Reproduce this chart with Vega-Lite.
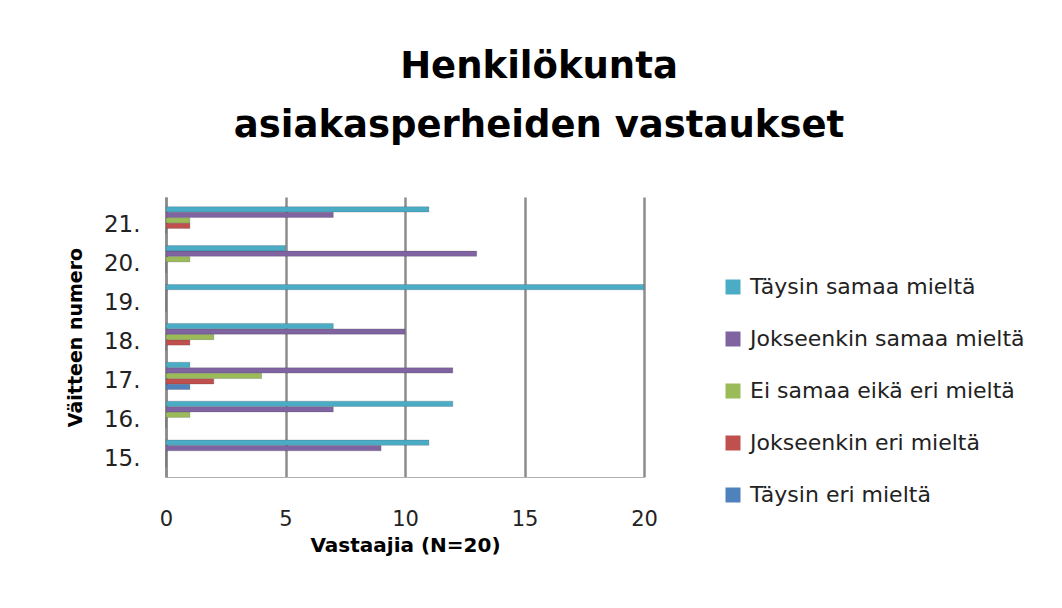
{
  "$schema": "https://vega.github.io/schema/vega-lite/v6.json",
  "autosize": "none",
  "width": 478,
  "height": 280,
  "padding": {"left": 166, "top": 197, "right": 418, "bottom": 131},
  "background": "white",
  "title": {
    "text": ["Henkilökunta", "asiakasperheiden vastaukset"],
    "font": "DejaVu Sans",
    "fontSize": 37,
    "fontWeight": "bold",
    "color": "#000000",
    "lineHeight": 59,
    "anchor": "middle",
    "dx": 134,
    "offset": 52
  },
  "data": {
    "values": [
      {"item": "15.", "series": "Täysin eri mieltä", "value": 0},
      {"item": "15.", "series": "Jokseenkin eri mieltä", "value": 0},
      {"item": "15.", "series": "Ei samaa eikä eri mieltä", "value": 0},
      {"item": "15.", "series": "Jokseenkin samaa mieltä", "value": 9},
      {"item": "15.", "series": "Täysin samaa mieltä", "value": 11},
      {"item": "16.", "series": "Täysin eri mieltä", "value": 0},
      {"item": "16.", "series": "Jokseenkin eri mieltä", "value": 0},
      {"item": "16.", "series": "Ei samaa eikä eri mieltä", "value": 1},
      {"item": "16.", "series": "Jokseenkin samaa mieltä", "value": 7},
      {"item": "16.", "series": "Täysin samaa mieltä", "value": 12},
      {"item": "17.", "series": "Täysin eri mieltä", "value": 1},
      {"item": "17.", "series": "Jokseenkin eri mieltä", "value": 2},
      {"item": "17.", "series": "Ei samaa eikä eri mieltä", "value": 4},
      {"item": "17.", "series": "Jokseenkin samaa mieltä", "value": 12},
      {"item": "17.", "series": "Täysin samaa mieltä", "value": 1},
      {"item": "18.", "series": "Täysin eri mieltä", "value": 0},
      {"item": "18.", "series": "Jokseenkin eri mieltä", "value": 1},
      {"item": "18.", "series": "Ei samaa eikä eri mieltä", "value": 2},
      {"item": "18.", "series": "Jokseenkin samaa mieltä", "value": 10},
      {"item": "18.", "series": "Täysin samaa mieltä", "value": 7},
      {"item": "19.", "series": "Täysin eri mieltä", "value": 0},
      {"item": "19.", "series": "Jokseenkin eri mieltä", "value": 0},
      {"item": "19.", "series": "Ei samaa eikä eri mieltä", "value": 0},
      {"item": "19.", "series": "Jokseenkin samaa mieltä", "value": 0},
      {"item": "19.", "series": "Täysin samaa mieltä", "value": 20},
      {"item": "20.", "series": "Täysin eri mieltä", "value": 0},
      {"item": "20.", "series": "Jokseenkin eri mieltä", "value": 0},
      {"item": "20.", "series": "Ei samaa eikä eri mieltä", "value": 1},
      {"item": "20.", "series": "Jokseenkin samaa mieltä", "value": 13},
      {"item": "20.", "series": "Täysin samaa mieltä", "value": 5},
      {"item": "21.", "series": "Täysin eri mieltä", "value": 0},
      {"item": "21.", "series": "Jokseenkin eri mieltä", "value": 1},
      {"item": "21.", "series": "Ei samaa eikä eri mieltä", "value": 1},
      {"item": "21.", "series": "Jokseenkin samaa mieltä", "value": 7},
      {"item": "21.", "series": "Täysin samaa mieltä", "value": 11}
    ]
  },
  "mark": {"type": "bar", "stroke": "#333333", "strokeWidth": 0.6, "strokeOpacity": 0.35},
  "encoding": {
    "y": {
      "field": "item",
      "type": "nominal",
      "sort": ["21.", "20.", "19.", "18.", "17.", "16.", "15."],
      "scale": {"paddingInner": 0.3, "paddingOuter": 0.25},
      "axis": {
        "title": "Väitteen numero",
        "titleFont": "DejaVu Sans",
        "titleFontSize": 19,
        "titleFontWeight": "bold",
        "titleColor": "#000000",
        "titlePadding": 18,
        "labelFont": "DejaVu Sans",
        "labelFontSize": 23,
        "labelColor": "#222222",
        "labelPadding": 26,
        "labelOffset": 5,
        "ticks": false,
        "domainColor": "#8c8c8c",
        "domainWidth": 2.5
      }
    },
    "yOffset": {
      "field": "series",
      "type": "nominal",
      "sort": ["Täysin samaa mieltä", "Jokseenkin samaa mieltä", "Ei samaa eikä eri mieltä", "Jokseenkin eri mieltä", "Täysin eri mieltä"],
      "scale": {"paddingInner": 0.04}
    },
    "x": {
      "field": "value",
      "type": "quantitative",
      "scale": {"domain": [0, 20], "nice": false},
      "axis": {
        "title": "Vastaajia (N=20)",
        "titleFont": "DejaVu Sans",
        "titleFontSize": 20,
        "titleFontWeight": "bold",
        "titleColor": "#000000",
        "titlePadding": 6,
        "values": [0, 5, 10, 15, 20],
        "labelFont": "DejaVu Sans",
        "labelFontSize": 21,
        "labelColor": "#222222",
        "labelPadding": 31,
        "labelFlush": false,
        "ticks": false,
        "grid": true,
        "gridColor": "#8c8c8c",
        "gridWidth": 2.5,
        "domainColor": "#b0b0b0",
        "domainWidth": 1
      }
    },
    "color": {
      "field": "series",
      "type": "nominal",
      "scale": {
        "domain": ["Täysin samaa mieltä", "Jokseenkin samaa mieltä", "Ei samaa eikä eri mieltä", "Jokseenkin eri mieltä", "Täysin eri mieltä"],
        "range": ["#4BACC6", "#8064A2", "#9BBB59", "#C0504D", "#4F81BD"]
      },
      "legend": {
        "title": null,
        "orient": "none",
        "legendX": 556,
        "legendY": 79,
        "symbolType": "square",
        "symbolSize": 225,
        "symbolStrokeWidth": 0,
        "labelFont": "DejaVu Sans",
        "labelFontSize": 22,
        "labelColor": "#222222",
        "labelLimit": 400,
        "rowPadding": 30,
        "labelOffset": 6
      }
    }
  },
  "config": {
    "view": {"stroke": null}
  }
}
